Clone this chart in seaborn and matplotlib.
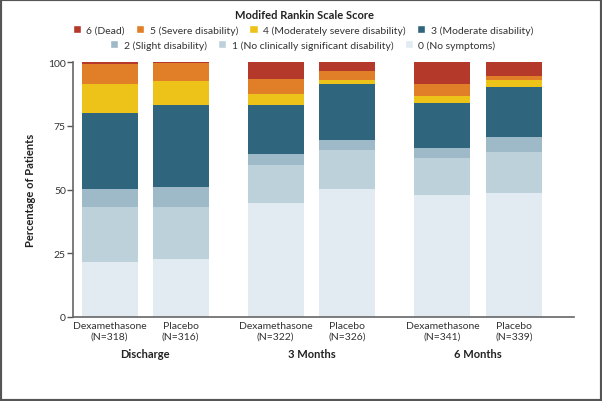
import pandas as pd
import seaborn as sns
import matplotlib.pyplot as plt
from matplotlib.patches import Patch, Rectangle
from matplotlib.transforms import blended_transform_factory

# Bars: (group, arm, N)
groups = ['Discharge', '3 Months', '6 Months']
arms = ['Dexamethasone', 'Placebo']
n_values = [318, 316, 322, 326, 341, 339]
positions = [0, 1, 2.34, 3.35, 4.69, 5.70]

# Percentages for each Rankin score, one entry per bar (same order as n_values)
score_0 = [21.7, 22.6, 44.8, 50.1, 47.9, 48.5]
score_1 = [21.4, 20.5, 15.0, 15.3, 14.3, 16.2]
score_2 = [7.3, 8.0, 4.0, 4.1, 4.1, 6.1]
score_3 = [29.7, 32.1, 19.4, 21.9, 17.6, 19.5]
score_4 = [11.4, 9.5, 4.4, 1.5, 3.0, 2.6]
score_5 = [7.9, 6.9, 5.7, 3.7, 4.4, 1.8]
score_6 = [0.6, 0.4, 6.7, 3.4, 8.7, 5.3]

levels = ['0 (No symptoms)', '1 (No clinically significant disability)', '2 (Slight disability)',
          '3 (Moderate disability)', '4 (Moderately severe disability)', '5 (Severe disability)',
          '6 (Dead)']
colors = ['#e2ebf1', '#bdd1da', '#9eb9c7', '#2f667d', '#edc31a', '#e07f27', '#b5392b']

# long table with cumulative tops for stacking
scores = [score_0, score_1, score_2, score_3, score_4, score_5, score_6]
rows = []
for i, pos in enumerate(positions):
    total = 0
    for lvl, vals in enumerate(scores):
        total += vals[i]
        rows.append({'pos': pos, 'level': lvl, 'top': total})
df = pd.DataFrame(rows)
# normalise so each bar reaches 100
df['top'] = df['top'] / df.groupby('pos')['top'].transform('max') * 100

sns.set_style('white')
plt.rcParams['font.family'] = ['Lato', 'DejaVu Sans']

fig = plt.figure(figsize=(6.02, 4.02), dpi=100)
ax = fig.add_axes([0.121, 0.209, 0.832, 0.634])

for lvl in range(6, -1, -1):
    sns.barplot(data=df[df['level'] == lvl], x='pos', y='top', native_scale=True,
                color=colors[lvl], saturation=1, width=0.79, linewidth=0,
                errorbar=None, ax=ax)

ax.set_xlim(-0.52, 6.54)
ax.set_ylim(0, 100)
ax.set_yticks([0, 25, 50, 75, 100])
ax.set_xticks(positions)
ax.set_xticklabels([f'{arms[i % 2]}\n(N={n})' for i, n in enumerate(n_values)])
ax.set_xlabel('')
ax.set_ylabel('Percentage of Patients', fontsize=8, fontweight='bold', labelpad=9,
              color='#222222')
ax.tick_params(axis='y', length=4, width=1, color='#555555', labelsize=7.5,
               labelcolor='#333333', pad=1, left=True)
ax.tick_params(axis='x', length=0, labelsize=7.5, labelcolor='#333333', pad=3)
for side in ['top', 'right']:
    ax.spines[side].set_visible(False)
for side in ['left', 'bottom']:
    ax.spines[side].set_color('#666666')
    ax.spines[side].set_linewidth(1.2)

trans = blended_transform_factory(ax.transData, ax.transAxes)
for g, name in enumerate(groups):
    xc = (positions[2 * g] + positions[2 * g + 1]) / 2
    ax.text(xc, -0.145, name, transform=trans, ha='center', va='center',
            fontsize=8, fontweight='bold', color='#222222')

# legend: title + two centred rows
fig.text(0.505, 0.962, 'Modifed Rankin Scale Score', ha='center', va='center',
         fontsize=8, fontweight='bold', color='#222222')
order1 = [6, 5, 4, 3]
order2 = [2, 1, 0]
h1 = [Patch(facecolor=colors[k], label=levels[k]) for k in order1]
h2 = [Patch(facecolor=colors[k], label=levels[k]) for k in order2]
leg_kw = dict(frameon=False, fontsize=7.5, handlelength=0.8, handleheight=0.8,
              handletextpad=0.5, columnspacing=1.1, borderpad=0, loc='center')
leg1 = fig.legend(handles=h1, ncol=4, bbox_to_anchor=(0.503, 0.923), **leg_kw)
leg2 = fig.legend(handles=h2, ncol=3, bbox_to_anchor=(0.503, 0.886), **leg_kw)
for leg in (leg1, leg2):
    for t in leg.get_texts():
        t.set_color('#333333')

fig.patches.append(Rectangle((0, 0), 1, 1, transform=fig.transFigure, fill=False,
                             edgecolor='#555555', linewidth=3))

fig.savefig('out.png', dpi=100)
